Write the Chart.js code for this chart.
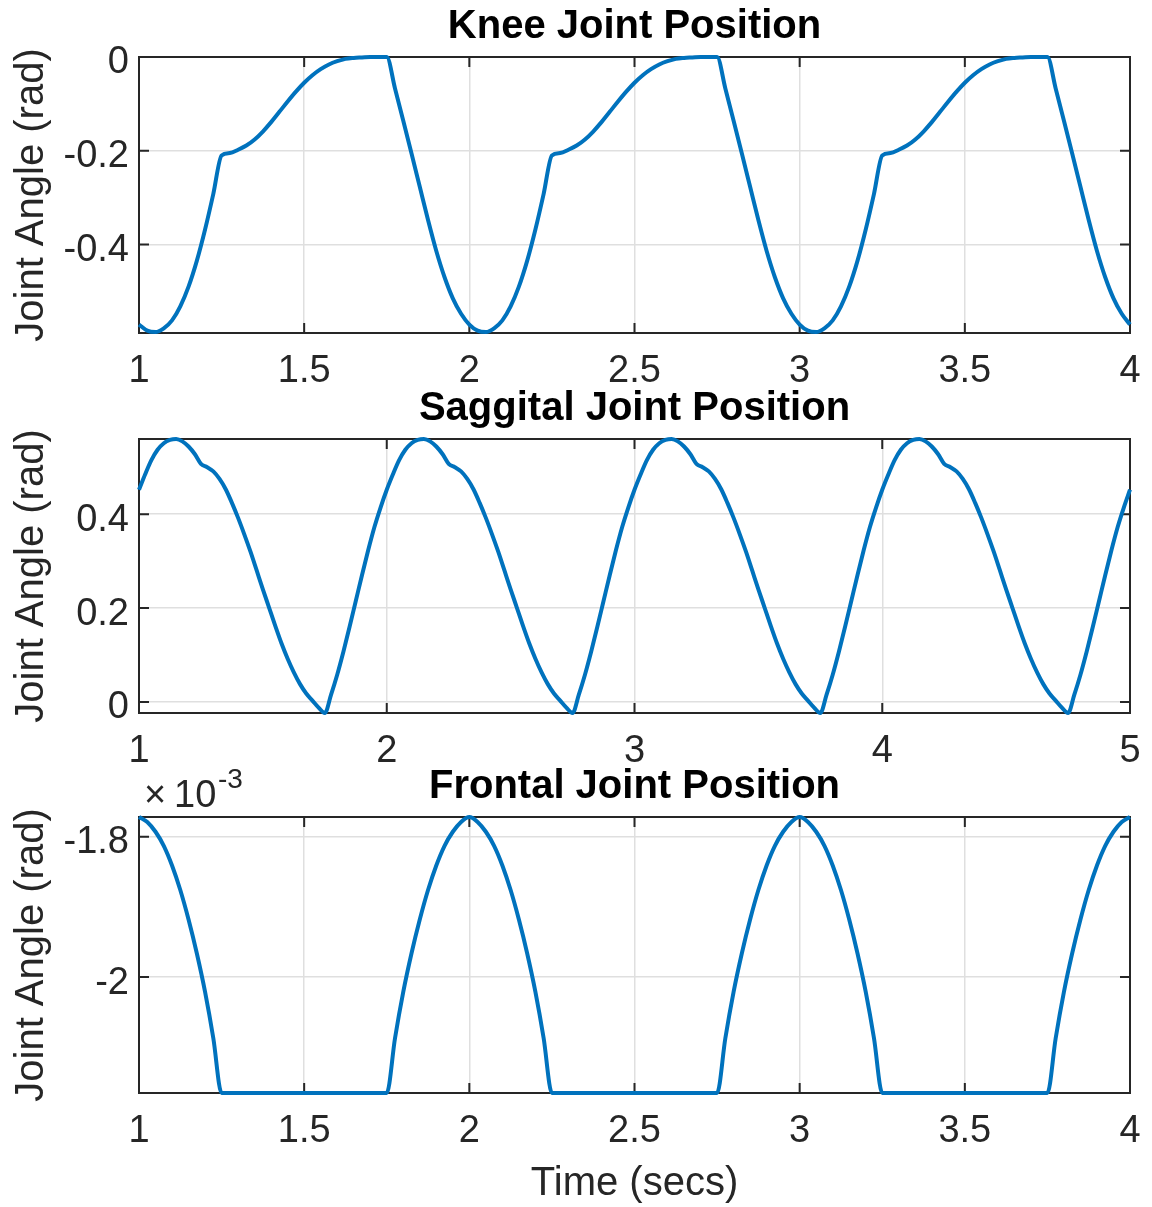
<!DOCTYPE html>
<html>
<head>
<meta charset="utf-8">
<script src="https://cdn.jsdelivr.net/npm/chart.js@4.4.1/dist/chart.umd.min.js"></script>
<style>
  html, body { margin: 0; padding: 0; background: #fff; }
  #wrap { position: relative; width: 1152px; height: 1207px; }
  #wrap canvas { position: absolute; left: 0; top: 0; }
</style>
</head>
<body>
<div id="wrap">
  <canvas id="kneeChart" width="1152" height="1207"></canvas>
  <canvas id="sagChart" width="1152" height="1207"></canvas>
  <canvas id="frontChart" width="1152" height="1207"></canvas>
</div>
<script>
// sample grid (secs), one point every 0.025 s
const kneeTime = Array.from({ length: 121 }, (_, i) => +(1 + i * 0.025).toFixed(3));
const sagTime = Array.from({ length: 161 }, (_, i) => +(1 + i * 0.025).toFixed(3));
const frontTime = Array.from({ length: 121 }, (_, i) => +(1 + i * 0.025).toFixed(3));

// knee joint angle (rad)
const kneeAngle = [
  -0.571, -0.584, -0.587, -0.579, -0.562, -0.532, -0.490, -0.435, -0.368, -0.292,
  -0.210, -0.205, -0.198, -0.189, -0.176, -0.159, -0.139, -0.117, -0.095, -0.074,
  -0.055, -0.039, -0.026, -0.016, -0.009, -0.004, -0.002, -0.001, 0, 0,
  0, -0.067, -0.136, -0.206, -0.277, -0.348, -0.414, -0.470, -0.515, -0.548,
  -0.571, -0.584, -0.587, -0.579, -0.562, -0.532, -0.490, -0.435, -0.368, -0.292,
  -0.210, -0.205, -0.198, -0.189, -0.176, -0.159, -0.139, -0.117, -0.095, -0.074,
  -0.055, -0.039, -0.026, -0.016, -0.009, -0.004, -0.002, -0.001, 0, 0,
  0, -0.067, -0.136, -0.206, -0.277, -0.348, -0.414, -0.470, -0.515, -0.548,
  -0.571, -0.584, -0.587, -0.579, -0.562, -0.532, -0.490, -0.435, -0.368, -0.292,
  -0.210, -0.205, -0.198, -0.189, -0.176, -0.159, -0.139, -0.117, -0.095, -0.074,
  -0.055, -0.039, -0.026, -0.016, -0.009, -0.004, -0.002, -0.001, 0, 0,
  0, -0.067, -0.136, -0.206, -0.277, -0.348, -0.414, -0.470, -0.515, -0.548,
  -0.571
];

// saggital joint angle (rad)
const sagAngle = [
  0.452, 0.485, 0.515, 0.537, 0.551, 0.558, 0.560, 0.555, 0.544, 0.528,
  0.507, 0.500, 0.491, 0.475, 0.453, 0.424, 0.392, 0.357, 0.320, 0.280,
  0.240, 0.201, 0.162, 0.125, 0.092, 0.063, 0.038, 0.018, 0.003, -0.012,
  -0.0235, 0.015, 0.058, 0.107, 0.160, 0.215, 0.270, 0.323, 0.372, 0.414,
  0.452, 0.485, 0.515, 0.537, 0.551, 0.558, 0.560, 0.555, 0.544, 0.528,
  0.507, 0.500, 0.491, 0.475, 0.453, 0.424, 0.392, 0.357, 0.320, 0.280,
  0.240, 0.201, 0.162, 0.125, 0.092, 0.063, 0.038, 0.018, 0.003, -0.012,
  -0.0235, 0.015, 0.058, 0.107, 0.160, 0.215, 0.270, 0.323, 0.372, 0.414,
  0.452, 0.485, 0.515, 0.537, 0.551, 0.558, 0.560, 0.555, 0.544, 0.528,
  0.507, 0.500, 0.491, 0.475, 0.453, 0.424, 0.392, 0.357, 0.320, 0.280,
  0.240, 0.201, 0.162, 0.125, 0.092, 0.063, 0.038, 0.018, 0.003, -0.012,
  -0.0235, 0.015, 0.058, 0.107, 0.160, 0.215, 0.270, 0.323, 0.372, 0.414,
  0.452, 0.485, 0.515, 0.537, 0.551, 0.558, 0.560, 0.555, 0.544, 0.528,
  0.507, 0.500, 0.491, 0.475, 0.453, 0.424, 0.392, 0.357, 0.320, 0.280,
  0.240, 0.201, 0.162, 0.125, 0.092, 0.063, 0.038, 0.018, 0.003, -0.012,
  -0.0235, 0.015, 0.058, 0.107, 0.160, 0.215, 0.270, 0.323, 0.372, 0.414,
  0.452
];

// frontal joint angle, in units of 1e-3 rad
const frontAngle = [
  -1.772, -1.779, -1.793, -1.813, -1.841, -1.876, -1.918, -1.966, -2.021, -2.087,
  -2.165, -2.165, -2.165, -2.165, -2.165, -2.165, -2.165, -2.165, -2.165, -2.165,
  -2.165, -2.165, -2.165, -2.165, -2.165, -2.165, -2.165, -2.165, -2.165, -2.165,
  -2.165, -2.087, -2.021, -1.966, -1.918, -1.876, -1.841, -1.813, -1.793, -1.779,
  -1.772, -1.779, -1.793, -1.813, -1.841, -1.876, -1.918, -1.966, -2.021, -2.087,
  -2.165, -2.165, -2.165, -2.165, -2.165, -2.165, -2.165, -2.165, -2.165, -2.165,
  -2.165, -2.165, -2.165, -2.165, -2.165, -2.165, -2.165, -2.165, -2.165, -2.165,
  -2.165, -2.087, -2.021, -1.966, -1.918, -1.876, -1.841, -1.813, -1.793, -1.779,
  -1.772, -1.779, -1.793, -1.813, -1.841, -1.876, -1.918, -1.966, -2.021, -2.087,
  -2.165, -2.165, -2.165, -2.165, -2.165, -2.165, -2.165, -2.165, -2.165, -2.165,
  -2.165, -2.165, -2.165, -2.165, -2.165, -2.165, -2.165, -2.165, -2.165, -2.165,
  -2.165, -2.087, -2.021, -1.966, -1.918, -1.876, -1.841, -1.813, -1.793, -1.779,
  -1.772
];

// tick values and labels
const kneeXTicks = [1, 1.5, 2, 2.5, 3, 3.5, 4];
const kneeXLabels = ['1', '1.5', '2', '2.5', '3', '3.5', '4'];
const kneeYTicks = [-0.4, -0.2, 0];
const kneeYLabels = ['-0.4', '-0.2', '0'];
const sagXTicks = [1, 2, 3, 4, 5];
const sagXLabels = ['1', '2', '3', '4', '5'];
const sagYTicks = [0, 0.2, 0.4];
const sagYLabels = ['0', '0.2', '0.4'];
const frontXTicks = [1, 1.5, 2, 2.5, 3, 3.5, 4];
const frontXLabels = ['1', '1.5', '2', '2.5', '3', '3.5', '4'];
const frontYTicks = [-2, -1.8];
const frontYLabels = ['-2', '-1.8'];

const FONT = '"Liberation Sans", Arial, Helvetica, sans-serif';
const TEXT = '#262626';
const TICK_LEN = 10;

Chart.defaults.font.family = FONT;
Chart.defaults.color = TEXT;

// MATLAB-ish box, inward ticks, title over the plot area, exponent label
const matlabAxes = {
  id: 'matlabAxes',
  beforeDatasetsDraw(chart) {
    const { ctx, chartArea: a, scales: { x, y } } = chart;
    ctx.save();
    ctx.strokeStyle = TEXT;
    ctx.lineWidth = 2;
    ctx.strokeRect(a.left, a.top, a.right - a.left, a.bottom - a.top);
    ctx.beginPath();
    x.ticks.forEach(t => {
      const px = x.getPixelForValue(t.value);
      ctx.moveTo(px, a.bottom); ctx.lineTo(px, a.bottom - TICK_LEN);
      ctx.moveTo(px, a.top); ctx.lineTo(px, a.top + TICK_LEN);
    });
    y.ticks.forEach(t => {
      const py = y.getPixelForValue(t.value);
      ctx.moveTo(a.left, py); ctx.lineTo(a.left + TICK_LEN, py);
      ctx.moveTo(a.right, py); ctx.lineTo(a.right - TICK_LEN, py);
    });
    ctx.stroke();
    ctx.restore();
  },
  afterDraw(chart, args, opts) {
    const { ctx, chartArea: a } = chart;
    ctx.save();
    ctx.fillStyle = '#000';
    ctx.font = 'bold 40px ' + FONT;
    ctx.textAlign = 'center';
    ctx.textBaseline = 'alphabetic';
    ctx.fillText(opts.title, (a.left + a.right) / 2, a.top - 19);
    if (opts.exponent) {
      ctx.fillStyle = TEXT;
      ctx.textAlign = 'left';
      ctx.font = '38px ' + FONT;
      ctx.fillText('\u00d7', a.left + 5, a.top - 10);
      ctx.fillText('10', a.left + 35, a.top - 10);
      ctx.font = '28px ' + FONT;
      ctx.fillText(opts.exponent, a.left + 79, a.top - 29);
    }
    ctx.restore();
  }
};

function makeChart(id, cfg) {
  const pts = cfg.xs.map((v, i) => ({ x: v, y: cfg.ys[i] }));
  return new Chart(document.getElementById(id), {
    type: 'line',
    data: {
      datasets: [{
        data: pts,
        borderColor: '#0072BD',
        borderWidth: 4,
        pointRadius: 0,
        cubicInterpolationMode: 'monotone',
        clip: false
      }]
    },
    options: {
      responsive: false,
      animation: false,
      events: [],
      layout: { padding: { top: cfg.top, right: 22, bottom: 1207 - cfg.bottom - cfg.xHeight, left: 0 } },
      plugins: {
        legend: { display: false },
        tooltip: { enabled: false },
        matlabAxes: { title: cfg.title, exponent: cfg.exponent }
      },
      scales: {
        x: {
          type: 'linear',
          min: cfg.xs[0],
          max: cfg.xs[cfg.xs.length - 1],
          afterBuildTicks: s => { s.ticks = cfg.xTicks.map(v => ({ value: v })); },
          afterFit: s => {
            s.height = cfg.xHeight;
            s.paddingLeft = 0;
            s.paddingRight = 0;
          },
          ticks: {
            callback: (v, i) => cfg.xLabels[i],
            font: { size: 38 },
            color: TEXT,
            padding: 16,
            maxRotation: 0,
            autoSkip: false
          },
          grid: { color: '#dfdfdf', lineWidth: 1.5, drawTicks: false },
          border: { display: false },
          title: {
            display: !!cfg.xTitle,
            text: cfg.xTitle || '',
            font: { size: 40, lineHeight: 1 },
            color: TEXT,
            padding: { top: 0, bottom: 3 }
          }
        },
        y: {
          min: cfg.yMin,
          max: cfg.yMax,
          afterBuildTicks: s => { s.ticks = cfg.yTicks.map(v => ({ value: v })); },
          afterFit: s => { s.width = 139; },
          ticks: {
            callback: (v, i) => cfg.yLabels[i],
            font: { size: 38 },
            color: TEXT,
            padding: 10,
            labelOffset: 6
          },
          grid: { color: '#dfdfdf', lineWidth: 1.5, drawTicks: false },
          border: { display: false },
          title: {
            display: true,
            text: 'Joint Angle (rad)',
            font: { size: 40, lineHeight: 1 },
            color: TEXT,
            padding: { top: 12, bottom: 0 }
          }
        }
      }
    },
    plugins: [matlabAxes]
  });
}

makeChart('kneeChart', {
  xs: kneeTime, ys: kneeAngle, title: 'Knee Joint Position',
  xTicks: kneeXTicks, xLabels: kneeXLabels, yTicks: kneeYTicks, yLabels: kneeYLabels,
  yMin: -0.589, yMax: 0, top: 57, bottom: 333, xHeight: 70
});

makeChart('sagChart', {
  xs: sagTime, ys: sagAngle, title: 'Saggital Joint Position',
  xTicks: sagXTicks, xLabels: sagXLabels, yTicks: sagYTicks, yLabels: sagYLabels,
  yMin: -0.0235, yMax: 0.56, top: 439, bottom: 713, xHeight: 70
});

makeChart('frontChart', {
  xs: frontTime, ys: frontAngle, title: 'Frontal Joint Position', exponent: '-3',
  xTicks: frontXTicks, xLabels: frontXLabels, yTicks: frontYTicks, yLabels: frontYLabels,
  yMin: -2.165, yMax: -1.772, top: 817, bottom: 1093, xHeight: 114, xTitle: 'Time (secs)'
});
</script>
</body>
</html>
